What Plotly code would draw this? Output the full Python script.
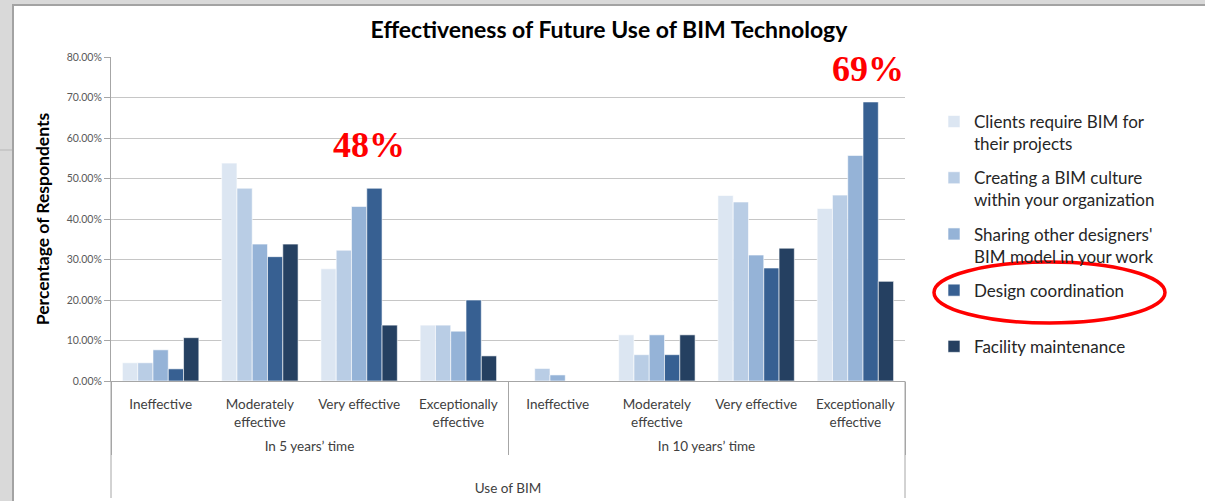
import plotly.graph_objects as go

# ── Data (percent of respondents)
PERIODS = ["<br>In 5 years’ time", "<br>In 10 years’ time"]
LEVELS = ["Ineffective", "Moderately<br>effective", "Very effective", "Exceptionally<br>effective"]

SERIES = [
    "Clients require BIM for<br>their projects",
    "Creating a BIM culture<br>within your organization",
    "Sharing other designers'<br>BIM model in your work",
    "Design coordination<br>&nbsp;",
    "Facility maintenance<br>&nbsp;",
]

clients = [4.5, 53.8, 27.7, 13.8, 0.0, 11.4, 45.8, 42.6]
culture = [4.5, 47.6, 32.3, 13.8, 3.1, 6.5, 44.2, 45.9]
sharing = [7.7, 33.8, 43.1, 12.3, 1.5, 11.4, 31.1, 55.7]
coordination = [3.0, 30.7, 47.6, 20.0, 0.0, 6.5, 27.9, 68.9]
maintenance = [10.7, 33.8, 13.8, 6.2, 0.0, 11.4, 32.8, 24.6]

COLOURS = ["#dce6f2", "#b9cde5", "#95b3d7", "#376092", "#254061"]

outer = [p for p in PERIODS for _ in LEVELS]
inner = LEVELS * len(PERIODS)

FONT = "Lato"
W, H = 1205, 501
ML, MR, MT, MB = 111, 300, 57, 120
PW, PH = W - ML - MR, H - MT - MB


def px(x):
    return (x - ML) / PW


def py(y):
    return (H - MB - y) / PH


fig = go.Figure()
for name, vals, col in zip(SERIES, [clients, culture, sharing, coordination, maintenance], COLOURS):
    fig.add_trace(
        go.Bar(
            x=[outer, inner],
            y=vals,
            name=name,
            legendgroup=name,
            marker=dict(color=col, line=dict(color="white", width=0.6)),
        )
    )

# ── Slide decoration: white panel on a grey backdrop
fig.add_shape(
    type="rect", xref="paper", yref="paper",
    x0=px(13), x1=px(1212), y0=py(510), y1=py(5),
    fillcolor="white", line=dict(color="#a3a3a3", width=2), layer="below",
)
fig.add_shape(
    type="line", xref="paper", yref="paper",
    x0=px(0), x1=px(12), y0=py(150), y1=py(150),
    line=dict(color="#c8c8c8", width=2),
)
# outer edges of the category box run down to the panel foot
for xe in (0, 1):
    fig.add_shape(
        type="line", xref="paper", yref="paper",
        x0=xe, x1=xe, y0=0, y1=py(498),
        line=dict(color="#a6a6a6", width=1),
    )

# ── Red callouts
fig.add_annotation(
    x=px(369), y=py(145), xref="paper", yref="paper", text="<b>48%</b>",
    xanchor="center", yanchor="middle", showarrow=False,
    font=dict(family="Liberation Serif", size=36, color="#ff0000"),
)
fig.add_annotation(
    x=px(868), y=py(69), xref="paper", yref="paper", text="<b>69%</b>",
    xanchor="center", yanchor="middle", showarrow=False,
    font=dict(family="Liberation Serif", size=36, color="#ff0000"),
)
fig.add_shape(
    type="circle", xref="paper", yref="paper",
    x0=px(934), x1=px(1165), y0=py(323), y1=py(262),
    line=dict(color="#ff0000", width=3.5),
)

fig.update_yaxes(
    range=[0, 80],
    dtick=10,
    ticksuffix="%",
    tickformat=".2f",
    tickfont=dict(family=FONT, size=10.5, color="#595959"),
    showgrid=True,
    gridcolor="#c6c6c6",
    gridwidth=1,
    showline=True,
    linecolor="#a6a6a6",
    ticks="outside",
    ticklen=6,
    tickcolor="#a6a6a6",
    zeroline=False,
    title=dict(
        text="<b>Percentage of Respondents</b>",
        font=dict(family=FONT, size=17.5, color="#000000"),
        standoff=12,
    ),
)
fig.update_xaxes(
    type="multicategory",
    tickfont=dict(family=FONT, size=13.5, color="#404040"),
    showline=True,
    linecolor="#a6a6a6",
    showdividers=True,
    dividercolor="#a6a6a6",
    dividerwidth=1,
    ticks="",
    ticklabelstandoff=11,
    title=dict(text="Use of BIM", font=dict(family=FONT, size=13.5, color="#404040"), standoff=30),
)

fig.update_layout(
    width=W,
    height=H,
    margin=dict(l=ML, r=MR, t=MT, b=MB, autoexpand=False),
    paper_bgcolor="#d9d9d9",
    plot_bgcolor="white",
    barmode="group",
    bargap=0.23,
    bargroupgap=0,
    title=dict(
        text="<b>Effectiveness of Future Use of BIM Technology</b>",
        x=609 / W, xanchor="center", y=1 - 30 / H, yanchor="middle",
        font=dict(family=FONT, size=23, color="#000000"),
    ),
    legend=dict(
        x=px(934), xanchor="left", y=py(104), yanchor="top",
        font=dict(family=FONT, size=17, color="#262626"),
        bgcolor="rgba(0,0,0,0)",
        valign="top",
        itemwidth=30,
        tracegroupgap=9,
    ),
    showlegend=True,
)

fig.write_html(
    "out.html",
    config={"displayModeBar": False},
    post_script="document.body.style.margin='0';document.body.style.background='#d9d9d9';",
)
